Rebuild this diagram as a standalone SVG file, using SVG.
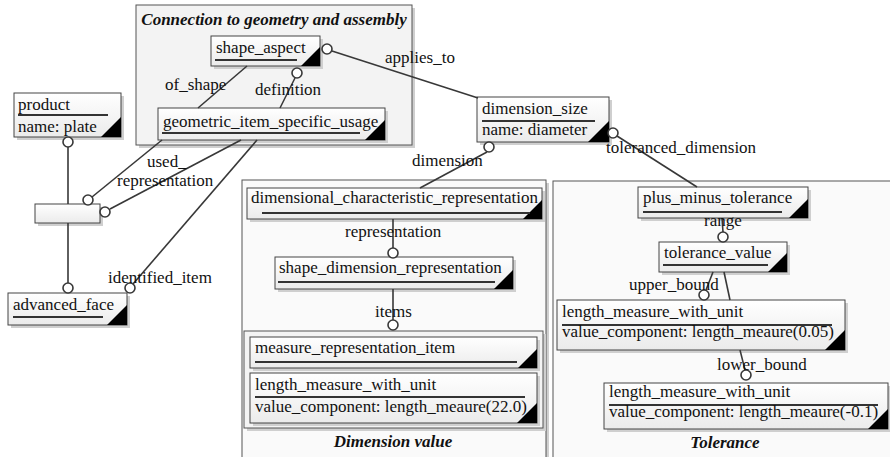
<svg xmlns="http://www.w3.org/2000/svg" width="890" height="457" viewBox="0 0 890 457">
  <style>
    text { font-family: "Liberation Serif", "Times New Roman", serif; font-size: 17px; fill: #111; }
    .title { font-weight: bold; font-style: italic; text-anchor: middle; }
    .panel { stroke: #555; stroke-width: 1; }
    .shadow { fill: #cfcfcf; }
    .box { fill: url(#boxFill); stroke: #444; stroke-width: 1; }
    .tri { fill: #000; }
    .ul { stroke: #333; stroke-width: 2; }
    .conn line { stroke: #383838; stroke-width: 1.6; }
    .conn circle { fill: #fff; stroke: #383838; stroke-width: 1.6; }
  </style>
  <defs>
    <linearGradient id="boxFill" x1="0" y1="0" x2="0" y2="1">
      <stop offset="0" stop-color="#ffffff"/>
      <stop offset="1" stop-color="#ebebeb"/>
    </linearGradient>
  </defs>

  <rect width="890" height="457" fill="#fff"/>

  <!-- Containers -->
  <g id="panel-geometry">
    <rect class="shadow" x="139" y="8" width="276" height="140"/>
    <rect class="panel" x="136" y="5" width="276" height="140" fill="#f3f3f3"/>
    <text class="title" x="274" y="25">Connection to geometry and assembly</text>
  </g>
  <g id="panel-dimension-value">
    <rect class="shadow" x="245" y="183" width="304" height="290"/>
    <rect class="panel" x="242" y="180" width="304" height="290" fill="#fafafa"/>
    <rect class="shadow" x="247" y="334" width="299" height="97"/>
    <rect class="panel" x="244" y="331" width="299" height="97" fill="#f4f4f4"/>
    <text class="title" x="393" y="447">Dimension value</text>
  </g>
  <g id="panel-tolerance">
    <rect class="shadow" x="556" y="184" width="340" height="290"/>
    <rect class="panel" x="553" y="181" width="340" height="290" fill="#fafafa"/>
    <text class="title" x="725" y="448">Tolerance</text>
  </g>

  <!-- Entity nodes -->
  <g id="shape_aspect">
    <rect class="shadow" x="214" y="39" width="109" height="30"/>
    <rect class="box" x="211" y="36" width="109" height="30"/>
    <polygon class="tri" points="320,47 320,66 301,66"/>
    <text x="216" y="53">shape_aspect</text>
    <line class="ul" x1="215" y1="60" x2="297" y2="60"/>
  </g>
  <g id="geometric_item_specific_usage">
    <rect class="shadow" x="161" y="111" width="227" height="32"/>
    <rect class="box" x="158" y="108" width="227" height="32"/>
    <polygon class="tri" points="385,120 385,140 365,140"/>
    <text x="163" y="127">geometric_item_specific_usage</text>
    <line class="ul" x1="162" y1="133" x2="360" y2="133"/>
  </g>
  <g id="product">
    <rect class="shadow" x="17" y="96" width="107" height="44"/>
    <rect class="box" x="14" y="93" width="107" height="44"/>
    <polygon class="tri" points="121,117 121,137 101,137"/>
    <text x="18" y="110">product</text>
    <line class="ul" x1="18" y1="115" x2="108" y2="115"/>
    <text x="18" y="132">name: plate</text>
  </g>
  <g id="assembly_link">
    <rect class="shadow" x="38" y="207" width="65" height="19"/>
    <rect class="box" x="35" y="204" width="65" height="19"/>
  </g>
  <g id="advanced_face">
    <rect class="shadow" x="11" y="296" width="119" height="32"/>
    <rect class="box" x="8" y="293" width="119" height="32"/>
    <polygon class="tri" points="127,305 127,325 107,325"/>
    <text x="13" y="310">advanced_face</text>
    <line class="ul" x1="13" y1="317" x2="103" y2="317"/>
  </g>
  <g id="dimension_size">
    <rect class="shadow" x="480" y="100" width="132" height="45"/>
    <rect class="box" x="477" y="97" width="132" height="45"/>
    <polygon class="tri" points="609,121 609,142 588,142"/>
    <text x="482" y="114">dimension_size</text>
    <line class="ul" x1="482" y1="121" x2="595" y2="121"/>
    <text x="482" y="135">name: diameter</text>
  </g>
  <g id="dimensional_characteristic_representation">
    <rect class="shadow" x="250" y="191" width="295" height="31"/>
    <rect class="box" x="247" y="188" width="295" height="31"/>
    <text x="251" y="203">dimensional_characteristic_representation</text>
    <polygon class="tri" points="542,200 542,219 523,219"/>
    <line class="ul" x1="262" y1="213" x2="530" y2="213"/>
  </g>
  <g id="shape_dimension_representation">
    <rect class="shadow" x="278" y="260" width="238" height="32"/>
    <rect class="box" x="275" y="257" width="238" height="32"/>
    <polygon class="tri" points="513,270 513,289 494,289"/>
    <text x="279" y="273">shape_dimension_representation</text>
    <line class="ul" x1="278" y1="282" x2="495" y2="282"/>
  </g>
  <g id="measure_representation_item">
    <rect class="shadow" x="253" y="340" width="287" height="31"/>
    <rect class="box" x="250" y="337" width="287" height="31"/>
    <polygon class="tri" points="537,349 537,368 518,368"/>
    <text x="255" y="353">measure_representation_item</text>
    <line class="ul" x1="255" y1="362" x2="517" y2="362"/>
  </g>
  <g id="length_measure_22">
    <rect class="shadow" x="253" y="376" width="287" height="50"/>
    <rect class="box" x="250" y="373" width="287" height="50"/>
    <polygon class="tri" points="537,403 537,423 517,423"/>
    <text x="255" y="390">length_measure_with_unit</text>
    <line class="ul" x1="255" y1="397" x2="525" y2="397"/>
    <text x="255" y="412">value_component: length_meaure(22.0)</text>
  </g>
  <g id="plus_minus_tolerance">
    <rect class="shadow" x="641" y="190" width="170" height="31"/>
    <rect class="box" x="638" y="187" width="170" height="31"/>
    <polygon class="tri" points="808,199 808,218 789,218"/>
    <text x="643" y="203">plus_minus_tolerance</text>
    <line class="ul" x1="643" y1="212" x2="782" y2="212"/>
  </g>
  <g id="tolerance_value">
    <rect class="shadow" x="662" y="245" width="128" height="30"/>
    <rect class="box" x="659" y="242" width="128" height="30"/>
    <polygon class="tri" points="787,253 787,272 768,272"/>
    <text x="664" y="258">tolerance_value</text>
    <line class="ul" x1="663" y1="265" x2="768" y2="265"/>
  </g>
  <g id="length_measure_upper">
    <rect class="shadow" x="560" y="303" width="288" height="50"/>
    <rect class="box" x="557" y="300" width="288" height="50"/>
    <polygon class="tri" points="845,330 845,350 825,350"/>
    <text x="562" y="317">length_measure_with_unit</text>
    <line class="ul" x1="562" y1="325" x2="832" y2="325"/>
    <text x="562" y="337">value_component: length_meaure(0.05)</text>
  </g>
  <g id="length_measure_lower">
    <rect class="shadow" x="607" y="386" width="284" height="46"/>
    <rect class="box" x="604" y="383" width="284" height="46"/>
    <polygon class="tri" points="888,409 888,429 868,429"/>
    <text x="609" y="397">length_measure_with_unit</text>
    <line class="ul" x1="609" y1="405" x2="878" y2="405"/>
    <text x="609" y="417">value_component: length_meaure(-0.1)</text>
  </g>

  <!-- Relationship connectors, circle at the referenced end -->
  <g id="connectors" class="conn">
    <line x1="332" y1="51" x2="478" y2="98"/>
    <circle cx="327" cy="49" r="5"/>
    <line x1="247" y1="66" x2="198" y2="108"/>
    <line x1="295" y1="78" x2="280" y2="108"/>
    <circle cx="297" cy="73" r="5"/>
    <line x1="162" y1="140" x2="92" y2="197"/>
    <circle cx="88" cy="200" r="5"/>
    <line x1="241" y1="140" x2="110" y2="209"/>
    <circle cx="105" cy="212" r="5"/>
    <line x1="257" y1="140" x2="133" y2="284"/>
    <circle cx="130" cy="288" r="5"/>
    <line x1="68" y1="147" x2="68" y2="204"/>
    <circle cx="68" cy="142" r="5"/>
    <line x1="68" y1="223" x2="68" y2="283"/>
    <circle cx="68" cy="288" r="5"/>
    <line x1="487" y1="152" x2="420" y2="188"/>
    <circle cx="489" cy="147" r="5"/>
    <line x1="617" y1="136" x2="697" y2="187"/>
    <circle cx="613" cy="133" r="5"/>
    <line x1="393" y1="219" x2="393" y2="248"/>
    <circle cx="393" cy="253" r="5"/>
    <line x1="393" y1="289" x2="393" y2="320"/>
    <circle cx="393" cy="325" r="5"/>
    <line x1="722" y1="218" x2="723" y2="232"/>
    <circle cx="723" cy="237" r="5"/>
    <line x1="713" y1="272" x2="706" y2="290"/>
    <circle cx="704" cy="295" r="5"/>
    <line x1="724" y1="272" x2="730" y2="300"/>
    <line x1="740" y1="350" x2="745" y2="370"/>
    <circle cx="746" cy="375" r="5"/>
  </g>

  <!-- Role labels -->
  <g id="labels">
    <text x="385" y="63">applies_to</text>
    <text x="165" y="90">of_shape</text>
    <text x="255" y="95">definition</text>
    <text x="147" y="167">used_</text>
    <text x="117" y="186">representation</text>
    <text x="108" y="283">identified_item</text>
    <text x="412" y="166">dimension</text>
    <text x="606" y="153">toleranced_dimension</text>
    <text x="345" y="237">representation</text>
    <text x="375" y="317">items</text>
    <text x="704" y="226">range</text>
    <text x="629" y="290">upper_bound</text>
    <text x="717" y="370">lower_bound</text>
  </g>
</svg>
